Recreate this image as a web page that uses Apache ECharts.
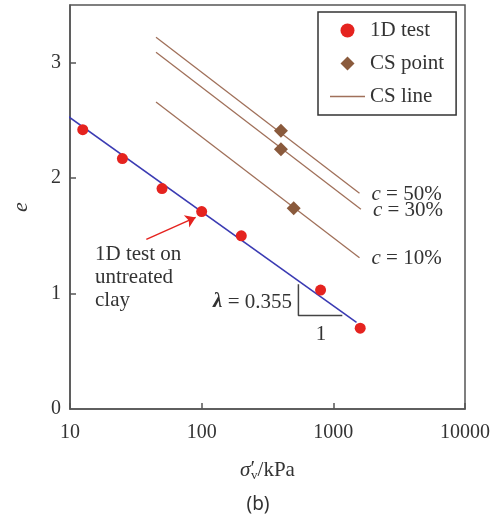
<!DOCTYPE html>
<html>
<head>
<meta charset="utf-8">
<script src="https://cdn.jsdelivr.net/npm/echarts@6/dist/echarts.min.js"></script>
<style>
  html, body { margin: 0; padding: 0; background: #fff; }
  #chart { width: 500px; height: 527px; }
</style>
</head>
<body>
<div id="chart"></div>
<script>
  // 1D test on untreated clay: [sigma'v (kPa), e]
  const testPoints = [[12.5, 2.42], [25, 2.17], [50, 1.91], [100, 1.71], [200, 1.5], [800, 1.03], [1600, 0.7]]
  // critical state points
  const csPoints = [[400, 2.41], [400, 2.25], [500, 1.74]]
  // critical state lines (start / end)
  const csLine50 = [[45, 3.22], [1580, 1.87]]
  const csLine30 = [[45, 3.09], [1620, 1.73]]
  const csLine10 = [[45, 2.66], [1580, 1.31]]
  // fitted line of 1D test
  const fitLine = [[9.3, 2.55], [1500, 0.75]]
  // slope triangle
  const slopeTri = [[543, 1.08], [543, 0.81], [1170, 0.81]]
  // arrow pointing to the fit line
  const arrowFrom = [38, 1.47]
  const arrowTo = [90, 1.66]
  const xTicks = [10, 100, 1000, 10000]
  const yTicks = [0, 1, 2, 3]

  const serif = 'Liberation Serif'
  const axisColor = '#555'
  const brown = '#a0705a'

  const chart = echarts.init(document.getElementById('chart'))

  function csSeries(data, label) {
    return {
      name: 'CS line',
      type: 'line',
      data: data,
      symbol: 'none',
      color: brown,
      lineStyle: { width: 1.3, color: brown },
      z: 2,
      endLabel: {
        show: true,
        formatter: '{i|c} = ' + label,
        fontFamily: serif,
        fontSize: 21,
        color: '#333',
        offset: [4, 1],
        rich: { i: { fontStyle: 'italic', fontFamily: serif, fontSize: 21, color: '#333' } },
      },
    }
  }

  const option = {
    animation: false,
    backgroundColor: '#fff',
    grid: {
      left: 70,
      right: 35,
      top: 5,
      bottom: 118,
      show: true,
      borderColor: axisColor,
      borderWidth: 1.5,
    },
    legend: {
      left: 318,
      top: 12,
      orient: 'vertical',
      itemWidth: 35,
      itemHeight: 14,
      itemGap: 12,
      padding: [8, 12, 8, 12],
      borderColor: '#333',
      borderWidth: 1.5,
      textStyle: { fontFamily: serif, fontSize: 21, color: '#333' },
      data: [
        { name: '1D test', icon: 'circle', itemStyle: { borderWidth: 0 } },
        { name: 'CS point', icon: 'path://M0,-1L1,0L0,1L-1,0Z' },
        { name: 'CS line', icon: 'path://M0,0L35,0L35,1.5L0,1.5Z' },
      ],
    },
    xAxis: {
      type: 'log',
      logBase: 10,
      min: xTicks[0],
      max: xTicks[xTicks.length - 1],
      name: '{s|σ}{p|′}{v|v}{n|/kPa}',
      nameLocation: 'middle',
      nameGap: 50,
      nameTextStyle: {
        rich: {
          s: { fontFamily: serif, fontStyle: 'italic', fontSize: 21, color: '#333' },
          p: { fontFamily: serif, fontSize: 21, color: '#333', verticalAlign: 'top' },
          v: { fontFamily: serif, fontSize: 13, color: '#333', verticalAlign: 'bottom', padding: [10, 0, 0, -4] },
          n: { fontFamily: serif, fontSize: 21, color: '#333' },
        },
      },
      axisLine: { lineStyle: { color: axisColor, width: 1.5 } },
      axisTick: { inside: true, length: 6, lineStyle: { color: axisColor, width: 1.5 } },
      axisLabel: {
        fontFamily: serif,
        fontSize: 20,
        color: '#333',
        margin: 14,
        customValues: xTicks,
        formatter: (v) => String(Math.round(v)),
      },
      splitLine: { show: false },
    },
    yAxis: {
      type: 'value',
      min: 0,
      max: 3.5,
      interval: 1,
      name: 'e',
      nameLocation: 'middle',
      nameGap: 38,
      nameRotate: 90,
      nameTextStyle: { fontFamily: serif, fontStyle: 'italic', fontSize: 22, color: '#333' },
      axisLine: { lineStyle: { color: axisColor, width: 1.5 } },
      axisTick: { inside: true, length: 6, lineStyle: { color: axisColor, width: 1.5 }, customValues: [1, 2, 3] },
      axisLabel: { fontFamily: serif, fontSize: 20, color: '#333', margin: 9, customValues: yTicks },
      splitLine: { show: false },
    },
    graphic: [
      {
        type: 'text',
        left: 95,
        top: 243,
        style: {
          text: '1D test on\nuntreated\nclay',
          font: '21px "Liberation Serif"',
          fill: '#333',
          lineHeight: 23,
        },
      },
      {
        type: 'text',
        x: 292,
        y: 302,
        style: {
          text: '{l|λ} = 0.355',
          font: '21px "Liberation Serif"',
          fill: '#333',
          align: 'right',
          verticalAlign: 'middle',
          rich: { l: { fontFamily: serif, fontSize: 21, fontWeight: 'bold', fontStyle: 'italic', fill: '#333' } },
        },
      },
      {
        type: 'text',
        x: 321,
        y: 334,
        style: {
          text: '1',
          font: '21px "Liberation Serif"',
          fill: '#333',
          align: 'center',
          verticalAlign: 'middle',
        },
      },
      {
        type: 'text',
        x: 258,
        y: 505,
        style: {
          text: '(b)',
          font: '19px "Noto Sans"',
          fill: '#333',
          align: 'center',
          verticalAlign: 'middle',
        },
      },
    ],
    series: [
      {
        name: 'fit',
        type: 'line',
        data: fitLine,
        symbol: 'none',
        clip: false,
        lineStyle: { width: 1.6, color: '#3b3bb3' },
        z: 2,
      },
      {
        name: 'slope',
        type: 'line',
        data: slopeTri,
        symbol: 'none',
        lineStyle: { width: 1.5, color: '#444' },
        z: 2,
      },
      csSeries(csLine50, '50%'),
      csSeries(csLine30, '30%'),
      csSeries(csLine10, '10%'),
      {
        name: '1D test',
        type: 'scatter',
        data: testPoints,
        symbol: 'circle',
        symbolSize: 11,
        color: '#e5231f',
        itemStyle: { opacity: 1 },
        z: 4,
        markLine: {
          silent: true,
          symbol: ['none', 'arrow'],
          symbolSize: 10,
          label: { show: false },
          lineStyle: { color: '#e5231f', width: 1.5, type: 'solid' },
          data: [[{ coord: arrowFrom }, { coord: arrowTo }]],
        },
      },
      {
        name: 'CS point',
        type: 'scatter',
        data: csPoints,
        symbol: 'diamond',
        symbolSize: 14,
        color: '#8a5a3c',
        itemStyle: { opacity: 1 },
        z: 4,
      },
    ],
  }

  chart.setOption(option)
</script>
</body>
</html>
